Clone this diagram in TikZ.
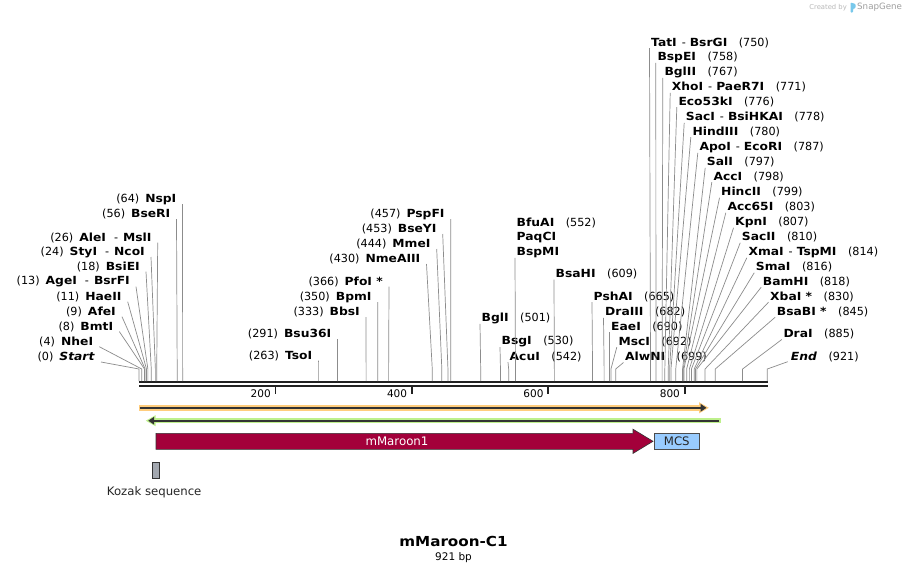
\documentclass[tikz,border=0pt]{standalone}
\usepackage{fontspec}
\setmainfont{DejaVu Sans}[BoldFeatures={FakeStretch=1.1},BoldItalicFeatures={FakeStretch=1.1}]
\usetikzlibrary{arrows.meta,calc}

\definecolor{orangehalo}{RGB}{255,205,125}
\definecolor{greenhalo}{RGB}{190,240,140}
\definecolor{featline}{RGB}{51,51,51}
\definecolor{maroonfill}{RGB}{163,0,58}
\definecolor{mcsfill}{RGB}{153,204,255}
\definecolor{kozakfill}{RGB}{163,168,176}
\definecolor{logoblue}{RGB}{120,200,235}

% map position (bp) to x
\newcommand{\bpx}[1]{139+0.682*#1}

\begin{document}
\begin{tikzpicture}[x=1pt, y=-1pt]
    \tikzstyle{lbl}      = [inner sep=0pt, font=\fontsize{11.2}{13}\selectfont]
    \tikzstyle{cutline}  = [draw=gray!90, line width=0.7pt]
    \tikzstyle{backbone} = [draw=black!87, line width=2.2pt]
    \tikzstyle{tickmark} = [draw=black!87, line width=1.8pt]
    \tikzstyle{ticklbl}  = [inner sep=0pt, anchor=east, font=\fontsize{10.5}{12}\selectfont]

    \useasboundingbox [fill=white] (0,0) rectangle (907,573);

    % Created by
    \node [inner sep=0pt, anchor=east, text=gray!55, font=\fontsize{6.8}{8}\selectfont] (createdby) at (847,7.3) {Created by};
    \fill [logoblue, rounded corners=0.8pt] (850.5,2.5) -- (855.5,4) -- (855.5,8) -- (853,9) -- (853,12.5) -- (850.5,12.5) -- cycle;
    \node [inner sep=0pt, anchor=west, text=gray!75, font=\fontsize{8.7}{10}\selectfont] (snapgene) at (857,7.3) {SnapGene};

    % Backbone and ruler
    \draw [backbone] (139,382.2) -- (767.5,382.2);
    \draw [backbone] (139,386.2) -- (767.5,386.2);
    \draw [tickmark] ({\bpx{200}},386) -- ++(0,8);
    \draw [tickmark] ({\bpx{400}},386) -- ++(0,8);
    \draw [tickmark] ({\bpx{600}},386) -- ++(0,8);
    \draw [tickmark] ({\bpx{800}},386) -- ++(0,8);
    \node [ticklbl] (t200) at ({\bpx{200}-4.5},394) {200};
    \node [ticklbl] (t400) at ({\bpx{400}-4.5},394) {400};
    \node [ticklbl] (t600) at ({\bpx{600}-4.5},394) {600};
    \node [ticklbl] (t800) at ({\bpx{800}-4.5},394) {800};

    % Sites on the backbone
    \coordinate (s0) at ({\bpx{0}},381);
    \coordinate (s4) at ({\bpx{4}},381);
    \coordinate (s8) at ({\bpx{8}},381);
    \coordinate (s9) at ({\bpx{9}},381);
    \coordinate (s11) at ({\bpx{11}},381);
    \coordinate (s13) at ({\bpx{13}},381);
    \coordinate (s18) at ({\bpx{18}},381);
    \coordinate (s24) at ({\bpx{24}},381);
    \coordinate (s26) at ({\bpx{26}},381);
    \coordinate (s56) at ({\bpx{56}},381);
    \coordinate (s64) at ({\bpx{64}},381);
    \coordinate (s263) at ({\bpx{263}},381);
    \coordinate (s291) at ({\bpx{291}},381);
    \coordinate (s333) at ({\bpx{333}},381);
    \coordinate (s350) at ({\bpx{350}},381);
    \coordinate (s366) at ({\bpx{366}},381);
    \coordinate (s430) at ({\bpx{430}},381);
    \coordinate (s444) at ({\bpx{444}},381);
    \coordinate (s453) at ({\bpx{453}},381);
    \coordinate (s457) at ({\bpx{457}},381);
    \coordinate (s501) at ({\bpx{501}},381);
    \coordinate (s530) at ({\bpx{530}},381);
    \coordinate (s542) at ({\bpx{542}},381);
    \coordinate (s552) at ({\bpx{552}},381);
    \coordinate (s609) at ({\bpx{609}},381);
    \coordinate (s665) at ({\bpx{665}},381);
    \coordinate (s682) at ({\bpx{682}},381);
    \coordinate (s690) at ({\bpx{690}},381);
    \coordinate (s692) at ({\bpx{692}},381);
    \coordinate (s699) at ({\bpx{699}},381);
    \coordinate (s750) at ({\bpx{750}},381);
    \coordinate (s758) at ({\bpx{758}},381);
    \coordinate (s767) at ({\bpx{767}},381);
    \coordinate (s771) at ({\bpx{771}},381);
    \coordinate (s776) at ({\bpx{776}},381);
    \coordinate (s778) at ({\bpx{778}},381);
    \coordinate (s780) at ({\bpx{780}},381);
    \coordinate (s787) at ({\bpx{787}},381);
    \coordinate (s797) at ({\bpx{797}},381);
    \coordinate (s798) at ({\bpx{798}},381);
    \coordinate (s799) at ({\bpx{799}},381);
    \coordinate (s803) at ({\bpx{803}},381);
    \coordinate (s807) at ({\bpx{807}},381);
    \coordinate (s810) at ({\bpx{810}},381);
    \coordinate (s814) at ({\bpx{814}},381);
    \coordinate (s816) at ({\bpx{816}},381);
    \coordinate (s818) at ({\bpx{818}},381);
    \coordinate (s830) at ({\bpx{830}},381);
    \coordinate (s845) at ({\bpx{845}},381);
    \coordinate (s885) at ({\bpx{885}},381);
    \coordinate (s921) at ({767.3},381);

    % Left cluster
    \node [lbl, anchor=east] (startlbl) at (95,357) {(0)\hspace{6pt}\textbf{\textit{Start}}};
    \node [lbl, anchor=east] (NheI) at (93.3,341.7) {(4)\hspace{6pt}\textbf{NheI}};
    \node [lbl, anchor=east] (BmtI) at (113.3,326.5) {(8)\hspace{6pt}\textbf{BmtI}};
    \node [lbl, anchor=east] (AfeI) at (116,311.7) {(9)\hspace{6pt}\textbf{AfeI}};
    \node [lbl, anchor=east] (HaeII) at (121.7,296.7) {(11)\hspace{6pt}\textbf{HaeII}};
    \node [lbl, anchor=east] (AgeI) at (130,281.7) {(13)\hspace{6pt}\textbf{AgeI}\hspace{8pt}-\hspace{5pt}\textbf{BsrFI}};
    \node [lbl, anchor=east] (BsiEI) at (140,266.7) {(18)\hspace{6pt}\textbf{BsiEI}};
    \node [lbl, anchor=east] (StyI) at (145,252) {(24)\hspace{6pt}\textbf{StyI}\hspace{8pt}-\hspace{5pt}\textbf{NcoI}};
    \node [lbl, anchor=east] (AleI) at (151.7,237.7) {(26)\hspace{6pt}\textbf{AleI}\hspace{8pt}-\hspace{5pt}\textbf{MslI}};
    \node [lbl, anchor=east] (BseRI) at (170.5,214) {(56)\hspace{6pt}\textbf{BseRI}};
    \node [lbl, anchor=east] (NspI) at (176.5,199) {(64)\hspace{6pt}\textbf{NspI}};

    \draw [cutline] ($(startlbl.east)+(6,5)$) -- ($(s0)+(0,-12)$) -- (s0);
    \draw [cutline] ($(NheI.east)+(6,5)$) -- ($(s4)+(0,-12)$) -- (s4);
    \draw [cutline] ($(BmtI.east)+(6,5)$) -- ($(s8)+(0,-12)$) -- (s8);
    \draw [cutline] ($(AfeI.east)+(6,5)$) -- ($(s9)+(0,-12)$) -- (s9);
    \draw [cutline] ($(HaeII.east)+(6,5)$) -- ($(s11)+(0,-12)$) -- (s11);
    \draw [cutline] ($(AgeI.east)+(6,5)$) -- ($(s13)+(0,-12)$) -- (s13);
    \draw [cutline] ($(BsiEI.east)+(6,5)$) -- ($(s18)+(0,-12)$) -- (s18);
    \draw [cutline] ($(StyI.east)+(6,5)$) -- ($(s24)+(0,-12)$) -- (s24);
    \draw [cutline] ($(AleI.east)+(6,5)$) -- ($(s26)+(0,-12)$) -- (s26);
    \draw [cutline] ($(BseRI.east)+(6,5)$) -- ($(s56)+(0,-12)$) -- (s56);
    \draw [cutline] ($(NspI.east)+(6,5)$) -- ($(s64)+(0,-12)$) -- (s64);

    % Middle cluster
    \node [lbl, anchor=east] (TsoI) at (312.4,355.7) {(263)\hspace{6pt}\textbf{TsoI}};
    \node [lbl, anchor=east] (Bsu36I) at (331.5,334) {(291)\hspace{6pt}\textbf{Bsu36I}};
    \node [lbl, anchor=east] (BbsI) at (360,312) {(333)\hspace{6pt}\textbf{BbsI}};
    \node [lbl, anchor=east] (BpmI) at (371.7,297) {(350)\hspace{6pt}\textbf{BpmI}};
    \node [lbl, anchor=east] (PfoI) at (383,281.7) {(366)\hspace{6pt}\textbf{PfoI *}};
    \node [lbl, anchor=east] (NmeAIII) at (420.5,259) {(430)\hspace{6pt}\textbf{NmeAIII}};
    \node [lbl, anchor=east] (MmeI) at (430.7,244) {(444)\hspace{6pt}\textbf{MmeI}};
    \node [lbl, anchor=east] (BseYI) at (436.7,229) {(453)\hspace{6pt}\textbf{BseYI}};
    \node [lbl, anchor=east] (PspFI) at (444.7,214) {(457)\hspace{6pt}\textbf{PspFI}};

    \draw [cutline] ($(TsoI.east)+(6,5)$) -- ($(s263)+(0,-12)$) -- (s263);
    \draw [cutline] ($(Bsu36I.east)+(6,5)$) -- ($(s291)+(0,-12)$) -- (s291);
    \draw [cutline] ($(BbsI.east)+(6,5)$) -- ($(s333)+(0,-12)$) -- (s333);
    \draw [cutline] ($(BpmI.east)+(6,5)$) -- ($(s350)+(0,-12)$) -- (s350);
    \draw [cutline] ($(PfoI.east)+(6,5)$) -- ($(s366)+(0,-12)$) -- (s366);
    \draw [cutline] ($(NmeAIII.east)+(6,5)$) -- ($(s430)+(0,-12)$) -- (s430);
    \draw [cutline] ($(MmeI.east)+(6,5)$) -- ($(s444)+(0,-12)$) -- (s444);
    \draw [cutline] ($(BseYI.east)+(6,5)$) -- ($(s453)+(0,-12)$) -- (s453);
    \draw [cutline] ($(PspFI.east)+(6,5)$) -- ($(s457)+(0,-12)$) -- (s457);

    % Right middle cluster
    \node [lbl, anchor=west] (BglI) at (481.5,318.3) {\textbf{BglI}\hspace{11.5pt}(501)};
    \node [lbl, anchor=west] (BsgI) at (501.5,341.7) {\textbf{BsgI}\hspace{11.5pt}(530)};
    \node [lbl, anchor=west] (AcuI) at (509.5,356.7) {\textbf{AcuI}\hspace{11.5pt}(542)};
    \node [lbl, anchor=west] (BfuAI) at (516.5,223) {\textbf{BfuAI}\hspace{11.5pt}(552)};
    \node [lbl, anchor=west] (PaqCI) at (516.5,237.7) {\textbf{PaqCI}};
    \node [lbl, anchor=west] (BspMI) at (516.5,252.3) {\textbf{BspMI}};
    \node [lbl, anchor=west] (BsaHI) at (555.5,274) {\textbf{BsaHI}\hspace{11.5pt}(609)};
    \node [lbl, anchor=west] (PshAI) at (593.5,296.7) {\textbf{PshAI}\hspace{11.5pt}(665)};
    \node [lbl, anchor=west] (DraIII) at (605,312.3) {\textbf{DraIII}\hspace{11.5pt}(682)};
    \node [lbl, anchor=west] (EaeI) at (611,326.7) {\textbf{EaeI}\hspace{11.5pt}(690)};
    \node [lbl, anchor=west] (MscI) at (618.3,341.7) {\textbf{MscI}\hspace{11.5pt}(692)};
    \node [lbl, anchor=west] (AlwNI) at (625,357) {\textbf{AlwNI}\hspace{11.5pt}(699)};

    \draw [cutline] ($(BglI.west)+(-1.5,5.5)$) -- ($(s501)+(0,-12)$) -- (s501);
    \draw [cutline] ($(BsgI.west)+(-1.5,5.5)$) -- ($(s530)+(0,-12)$) -- (s530);
    \draw [cutline] ($(AcuI.west)+(-1.5,5.5)$) -- ($(s542)+(0,-12)$) -- (s542);
    \draw [cutline] ($(BspMI.west)+(-1.5,5.5)$) -- ($(s552)+(0,-12)$) -- (s552);
    \draw [cutline] ($(BsaHI.west)+(-1.5,5.5)$) -- ($(s609)+(0,-12)$) -- (s609);
    \draw [cutline] ($(PshAI.west)+(-1.5,5.5)$) -- ($(s665)+(0,-12)$) -- (s665);
    \draw [cutline] ($(DraIII.west)+(-1.5,5.5)$) -- ($(s682)+(0,-12)$) -- (s682);
    \draw [cutline] ($(EaeI.west)+(-1.5,5.5)$) -- ($(s690)+(0,-12)$) -- (s690);
    \draw [cutline] ($(MscI.west)+(-1.5,5.5)$) -- ($(s692)+(0,-12)$) -- (s692);
    \draw [cutline] ($(AlwNI.west)+(-1.5,5.5)$) -- ($(s699)+(0,-12)$) -- (s699);

    % Right top cluster (MCS)
    \node [lbl, anchor=west] (TatI) at (651,42.7) {\textbf{TatI}\hspace{5pt}-\hspace{4pt}\textbf{BsrGI}\hspace{11.5pt}(750)};
    \node [lbl, anchor=west] (BspEI) at (657.3,57.3) {\textbf{BspEI}\hspace{11.5pt}(758)};
    \node [lbl, anchor=west] (BglII) at (664.3,72.3) {\textbf{BglII}\hspace{11.5pt}(767)};
    \node [lbl, anchor=west] (XhoI) at (671.7,87.3) {\textbf{XhoI}\hspace{5pt}-\hspace{4pt}\textbf{PaeR7I}\hspace{11.5pt}(771)};
    \node [lbl, anchor=west] (Eco53kI) at (678.3,101.7) {\textbf{Eco53kI}\hspace{11.5pt}(776)};
    \node [lbl, anchor=west] (SacI) at (685.7,117.3) {\textbf{SacI}\hspace{5pt}-\hspace{4pt}\textbf{BsiHKAI}\hspace{11.5pt}(778)};
    \node [lbl, anchor=west] (HindIII) at (692.3,131.7) {\textbf{HindIII}\hspace{11.5pt}(780)};
    \node [lbl, anchor=west] (ApoI) at (699.3,147.3) {\textbf{ApoI}\hspace{5pt}-\hspace{4pt}\textbf{EcoRI}\hspace{11.5pt}(787)};
    \node [lbl, anchor=west] (SalI) at (706.7,162.3) {\textbf{SalI}\hspace{11.5pt}(797)};
    \node [lbl, anchor=west] (AccI) at (713.3,176.7) {\textbf{AccI}\hspace{11.5pt}(798)};
    \node [lbl, anchor=west] (HincII) at (721,192.3) {\textbf{HincII}\hspace{11.5pt}(799)};
    \node [lbl, anchor=west] (Acc65I) at (727.3,207.3) {\textbf{Acc65I}\hspace{11.5pt}(803)};
    \node [lbl, anchor=west] (KpnI) at (735,222.3) {\textbf{KpnI}\hspace{11.5pt}(807)};
    \node [lbl, anchor=west] (SacII) at (741.7,237.3) {\textbf{SacII}\hspace{11.5pt}(810)};
    \node [lbl, anchor=west] (XmaI) at (748.3,252.3) {\textbf{XmaI}\hspace{5pt}-\hspace{4pt}\textbf{TspMI}\hspace{11.5pt}(814)};
    \node [lbl, anchor=west] (SmaI) at (755.7,267.3) {\textbf{SmaI}\hspace{11.5pt}(816)};
    \node [lbl, anchor=west] (BamHI) at (762.7,281.7) {\textbf{BamHI}\hspace{11.5pt}(818)};
    \node [lbl, anchor=west] (XbaI) at (770,296.7) {\textbf{XbaI *}\hspace{11.5pt}(830)};
    \node [lbl, anchor=west] (BsaBI) at (776.7,311.7) {\textbf{BsaBI *}\hspace{11.5pt}(845)};
    \node [lbl, anchor=west] (DraI) at (783.3,334) {\textbf{DraI}\hspace{11.5pt}(885)};
    \node [lbl, anchor=west] (endlbl) at (790.7,356.7) {\textbf{\textit{End}}\hspace{11.5pt}(921)};

    \draw [cutline] ($(TatI.west)+(-1.5,5.5)$) -- ($(s750)+(0,-12)$) -- (s750);
    \draw [cutline] ($(BspEI.west)+(-1.5,5.5)$) -- ($(s758)+(0,-12)$) -- (s758);
    \draw [cutline] ($(BglII.west)+(-1.5,5.5)$) -- ($(s767)+(0,-12)$) -- (s767);
    \draw [cutline] ($(XhoI.west)+(-1.5,5.5)$) -- ($(s771)+(0,-12)$) -- (s771);
    \draw [cutline] ($(Eco53kI.west)+(-1.5,5.5)$) -- ($(s776)+(0,-12)$) -- (s776);
    \draw [cutline] ($(SacI.west)+(-1.5,5.5)$) -- ($(s778)+(0,-12)$) -- (s778);
    \draw [cutline] ($(HindIII.west)+(-1.5,5.5)$) -- ($(s780)+(0,-12)$) -- (s780);
    \draw [cutline] ($(ApoI.west)+(-1.5,5.5)$) -- ($(s787)+(0,-12)$) -- (s787);
    \draw [cutline] ($(SalI.west)+(-1.5,5.5)$) -- ($(s797)+(0,-12)$) -- (s797);
    \draw [cutline] ($(AccI.west)+(-1.5,5.5)$) -- ($(s798)+(0,-12)$) -- (s798);
    \draw [cutline] ($(HincII.west)+(-1.5,5.5)$) -- ($(s799)+(0,-12)$) -- (s799);
    \draw [cutline] ($(Acc65I.west)+(-1.5,5.5)$) -- ($(s803)+(0,-12)$) -- (s803);
    \draw [cutline] ($(KpnI.west)+(-1.5,5.5)$) -- ($(s807)+(0,-12)$) -- (s807);
    \draw [cutline] ($(SacII.west)+(-1.5,5.5)$) -- ($(s810)+(0,-12)$) -- (s810);
    \draw [cutline] ($(XmaI.west)+(-1.5,5.5)$) -- ($(s814)+(0,-12)$) -- (s814);
    \draw [cutline] ($(SmaI.west)+(-1.5,5.5)$) -- ($(s816)+(0,-12)$) -- (s816);
    \draw [cutline] ($(BamHI.west)+(-1.5,5.5)$) -- ($(s818)+(0,-12)$) -- (s818);
    \draw [cutline] ($(XbaI.west)+(-1.5,5.5)$) -- ($(s830)+(0,-12)$) -- (s830);
    \draw [cutline] ($(BsaBI.west)+(-1.5,5.5)$) -- ($(s845)+(0,-12)$) -- (s845);
    \draw [cutline] ($(DraI.west)+(-1.5,5.5)$) -- ($(s885)+(0,-12)$) -- (s885);
    \draw [cutline] ($(endlbl.west)+(-3,5)$) -- ($(s921)+(0,-12)$) -- (s921);

    % Primer-like features
    \draw [orangehalo, line width=5.7pt] (139,407.8) -- (702,407.8);
    \fill [orangehalo] (699,402.2) -- (708.8,407.8) -- (699,413.4) -- cycle;
    \draw [featline, line width=1.7pt, -{Triangle[length=6pt,width=7.5pt]}] (139.5,407.8) -- (706.5,407.8);

    \draw [greenhalo, line width=5.3pt] (152,420.7) -- (720.7,420.7);
    \fill [greenhalo] (155.5,415.2) -- (145.8,420.7) -- (155.5,426.2) -- cycle;
    \draw [featline, line width=1.7pt, -{Triangle[length=6pt,width=7.5pt]}] (719,420.7) -- (148.2,420.7);

    % mMaroon1 and MCS
    \filldraw [fill=maroonfill, draw=black!80, line width=0.6pt] (156,433.3) -- (633,433.3) -- (633,429.2) -- (653,441.3) -- (633,453.4) -- (633,449.3) -- (156,449.3) -- cycle;
    \node [text=white, font=\fontsize{11.8}{13}\selectfont, inner sep=0pt] (maroon) at (397,441.3) {mMaroon1};
    \node [draw=black!70, fill=mcsfill, line width=0.6pt, minimum width=45pt, minimum height=16pt, inner sep=0pt, font=\fontsize{11.7}{13}\selectfont, text=black!85] (mcs) at (676.8,441.3) {MCS};

    % Kozak sequence
    \node [draw=black!80, fill=kozakfill, line width=0.6pt, minimum width=7.3pt, minimum height=16pt, inner sep=0pt] (kozak) at (155.6,470.3) {};
    \node [font=\fontsize{11.7}{13}\selectfont, inner sep=0pt, text=black!85] (kozaklbl) at (154.2,492) {Kozak sequence};

    % Title
    \node [font=\fontsize{13.8}{16}\bfseries, inner sep=0pt] (title) at (453.5,541.7) {mMaroon-C1};
    \node [font=\fontsize{10.5}{12}\selectfont, inner sep=0pt] (length) at (453.5,557.5) {921 bp};
\end{tikzpicture}
\end{document}
